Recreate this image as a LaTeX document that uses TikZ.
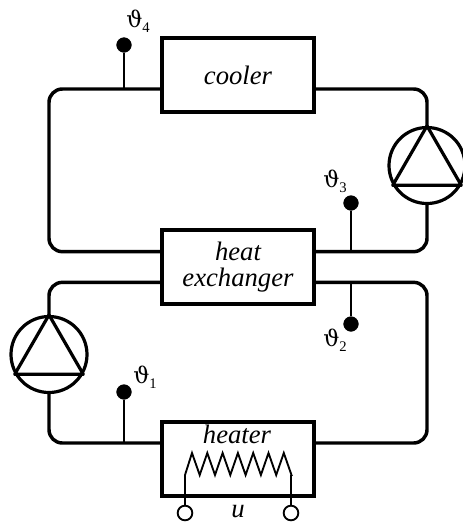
\documentclass[tikz,border=0pt]{standalone}
\usepackage{fontspec}
\setmainfont{Liberation Serif}
\newfontfamily\sensorfont{DejaVu Serif}
\usetikzlibrary{positioning,calc}
\newcommand{\sensorname}[1]{{\sensorfont ϑ}\raisebox{-0.55ex}{\fontsize{11}{12}\selectfont #1}}
\tikzset{
    unitblock/.style={draw, line width=3pt, align=center, inner sep=0pt, minimum width=114pt, minimum height=56pt, font=\fontsize{20}{20}\selectfont\itshape},
    pumpcircle/.style={draw, circle, line width=2.4pt, inner sep=0pt, minimum size=57pt},
    pipeline/.style={line width=2.6pt, rounded corners=10pt},
    sensorline/.style={line width=1.4pt},
    sensordot/.style={draw, fill=black, circle, inner sep=0pt, minimum size=11pt},
    sensorlabel/.style={anchor=base west, inner sep=0pt, font=\fontsize{17}{20}\selectfont},
    coilline/.style={line width=1.4pt},
    terminal/.style={draw, fill=white, circle, line width=1.4pt, inner sep=0pt, minimum size=11pt}
}
\begin{document}
\begin{tikzpicture}[x=0.75pt, y=-0.75pt]
    \useasboundingbox (0,0) rectangle (462,522);
    \node[unitblock] (cooler) at (238,75) {cooler};
    \node[unitblock, below=85pt of cooler] (exchanger) {heat\\exchanger};
    \node[unitblock, below=85pt of exchanger] (heater) {};
    \node[font=\fontsize{20}{20}\selectfont\itshape, anchor=base, inner sep=0pt] (heatername) at (237,443) {heater};
    \node[pumpcircle] (pumpa) at (427,165.5) {};
    \node[pumpcircle] (pumpb) at (49,354.5) {};
    % pump triangles
    \draw[line width=2.4pt, line join=round] (pumpa.north) -- (pumpa.210) -- (pumpa.330) -- cycle;
    \draw[line width=2.4pt, line join=round] (pumpb.north) -- (pumpb.210) -- (pumpb.330) -- cycle;
    % pipes
    \coordinate (coolerin) at ([yshift=-10.5pt]cooler.west);
    \coordinate (coolerout) at ([yshift=-10.5pt]cooler.east);
    \coordinate (upperin) at ([yshift=11.5pt]exchanger.west);
    \coordinate (upperout) at ([yshift=11.5pt]exchanger.east);
    \coordinate (lowerin) at ([yshift=-11.5pt]exchanger.west);
    \coordinate (lowerout) at ([yshift=-11.5pt]exchanger.east);
    \coordinate (heaterin) at ([yshift=12pt]heater.west);
    \coordinate (heaterout) at ([yshift=12pt]heater.east);
    \draw[pipeline] (coolerin) -| (pumpb.north |- upperin) -- (upperin);
    \draw[pipeline] (coolerout) -| (pumpa.north);
    \draw[pipeline] (upperout) -| (pumpa.south);
    \draw[pipeline] (lowerin) -| (pumpb.north);
    \draw[pipeline] (pumpb.south) |- (heaterin);
    \draw[pipeline] (lowerout) -| (pumpa.south |- heaterout) -- (heaterout);
    % sensors
    \node[sensordot] (dotfour) at (124,45) {};
    \node[sensordot] (dotthree) at (351,203) {};
    \node[sensordot] (dottwo) at (351,324) {};
    \node[sensordot] (dotone) at (124,392) {};
    \draw[sensorline] (dotfour) -- (dotfour |- coolerin);
    \draw[sensorline] (dotthree) -- (dotthree |- upperout);
    \draw[sensorline] (dottwo) -- (dottwo |- lowerout);
    \draw[sensorline] (dotone) -- (dotone |- heaterin);
    \node[sensorlabel] (labelfour) at (126,27) {\sensorname{4}};
    \node[sensorlabel] (labelthree) at (323,187) {\sensorname{3}};
    \node[sensorlabel] (labeltwo) at (323,346) {\sensorname{2}};
    \node[sensorlabel] (labelone) at (133,383) {\sensorname{1}};
    % heating coil
    \coordinate (coilleft) at (185,475);
    \coordinate (coilright) at (291,475);
    \draw[coilline] (coilleft) \foreach \i in {0,...,6} {-- (192+15.3*\i,453) -- (199.7+15.3*\i,475)} -- (coilright);
    \node[terminal] (termleft) at (185,513) {};
    \node[terminal] (termright) at (291,513) {};
    \draw[coilline] (coilleft) -- (termleft);
    \draw[coilline] (coilright) -- (termright);
    \node[font=\fontsize{20}{20}\selectfont\itshape, anchor=base, inner sep=0pt] (supply) at (238,517) {u};
\end{tikzpicture}
\end{document}
